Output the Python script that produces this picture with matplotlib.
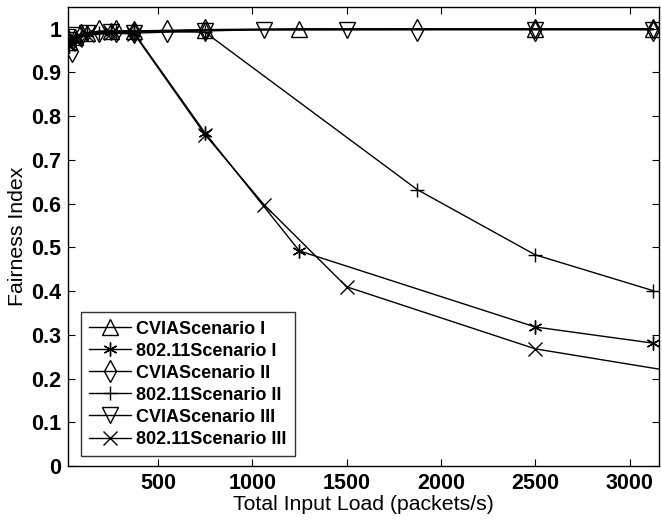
import matplotlib
matplotlib.use("Agg")
import matplotlib.pyplot as plt

plt.rcParams['font.family'] = ['Liberation Sans', 'DejaVu Sans']

# === DATA ===
cvia1_x = [31, 62, 125, 250, 375, 750, 1250, 2500, 3125]
cvia1_y = [0.970, 0.980, 0.990, 0.995, 0.995, 0.998, 1.000, 1.000, 1.000]

wifi1_x = [31, 62, 125, 250, 375, 750, 1250, 2500, 3125]
wifi1_y = [0.960, 0.975, 0.990, 0.993, 0.990, 0.762, 0.492, 0.318, 0.281]

cvia2_x = [47, 94, 187, 281, 375, 550, 750, 1875, 2500, 3125]
cvia2_y = [0.950, 0.985, 0.995, 0.995, 0.993, 0.995, 0.997, 0.998, 0.998, 0.998]

wifi2_x = [47, 94, 187, 281, 375, 750, 1875, 2500, 3125]
wifi2_y = [0.970, 0.985, 0.990, 0.995, 0.995, 0.992, 0.632, 0.483, 0.401]

cvia3_x = [25, 62, 125, 250, 375, 750, 1062, 1500, 2500, 3125]
cvia3_y = [0.975, 0.985, 0.990, 0.993, 0.990, 0.995, 0.998, 0.998, 0.998, 0.998]

wifi3_x = [25, 62, 125, 250, 375, 750, 1062, 1500, 2500, 3250]
wifi3_y = [0.965, 0.975, 0.985, 0.990, 0.988, 0.758, 0.598, 0.410, 0.268, 0.215]

labels = ["CVIAScenario I", "802.11Scenario I", "CVIAScenario II",
          "802.11Scenario II", "CVIAScenario III", "802.11Scenario III"]

x_ticks = [500, 1000, 1500, 2000, 2500, 3000]
y_ticks = [0, 0.1, 0.2, 0.3, 0.4, 0.5, 0.6, 0.7, 0.8, 0.9, 1]
y_ticklabels = ["0", "0.1", "0.2", "0.3", "0.4", "0.5", "0.6", "0.7", "0.8", "0.9", "1"]

series = [
    (cvia1_x, cvia1_y, '^'),
    (wifi1_x, wifi1_y, (6, 2, 0)),
    (cvia2_x, cvia2_y, 'd'),
    (wifi2_x, wifi2_y, '+'),
    (cvia3_x, cvia3_y, 'v'),
    (wifi3_x, wifi3_y, 'x'),
]

fig = plt.figure(figsize=(6.62, 5.29), dpi=100)
ax = fig.add_axes([0.103, 0.119, 0.892, 0.868])

for (xs, ys, mk), lab in zip(series, labels):
    size = 11 if mk in ('^', 'v', 'd') else 10
    ax.plot(xs, ys, color='black', linewidth=1.0, marker=mk, markersize=size,
            markerfacecolor='none', markeredgecolor='black', markeredgewidth=1.0,
            label=lab)

ax.set_xlim(25, 3154)
ax.set_ylim(0, 1.05)
ax.set_xticks(x_ticks)
ax.set_yticks(y_ticks)
ax.set_yticklabels(y_ticklabels)
ax.tick_params(direction='in', top=True, right=True, length=5, width=0.8,
               labelsize=15.5, pad=5)
for lbl in ax.get_xticklabels() + ax.get_yticklabels():
    lbl.set_fontweight('bold')
for sp in ax.spines.values():
    sp.set_linewidth(1.0)

ax.set_xlabel("Total Input Load (packets/s)", fontsize=15.3, labelpad=1)
ax.set_ylabel("Fairness Index", fontsize=15.3, labelpad=3)

leg = ax.legend(loc='lower left', bbox_to_anchor=(0.022, 0.022), frameon=True,
                fancybox=False, edgecolor='black', handlelength=2.3,
                handletextpad=0.3, borderpad=0.45, labelspacing=0.28,
                borderaxespad=0, prop={'weight': 'bold', 'size': 13})
leg.get_frame().set_linewidth(1.0)

fig.savefig("out.png", dpi=100)
